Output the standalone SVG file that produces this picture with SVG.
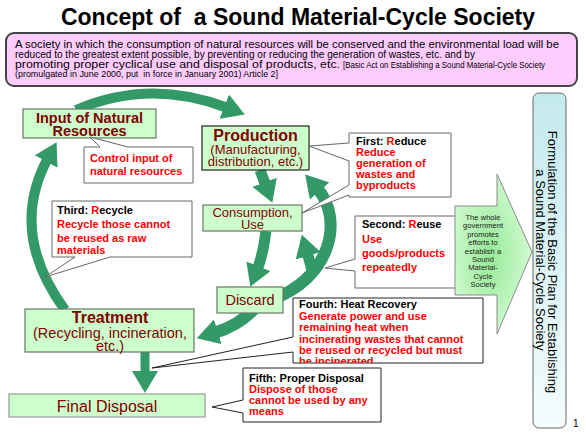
<svg xmlns="http://www.w3.org/2000/svg" width="586" height="438" viewBox="0 0 586 438">
<defs>
<style>
.f{font-family:"Liberation Sans",Arial,sans-serif}
.node rect{fill:#CCFFCC;stroke:#667766;stroke-width:1.2}
.nt{font-family:"Liberation Sans",Arial,sans-serif;fill:#800000;text-anchor:middle}
.b{font-weight:bold}
.co path{fill:#fff;stroke:#666;stroke-width:1}
.ct{font-family:"Liberation Sans",Arial,sans-serif;font-size:11px;font-weight:bold;fill:#FF0000}
.k{fill:#000}
.flow{fill:none;stroke:#339966;marker-end:url(#ah)}
</style>
<marker id="ah" markerUnits="userSpaceOnUse" markerWidth="22" markerHeight="26" viewBox="0 0 22 26" refX="4" refY="13" orient="auto">
<path d="M0,0 L22,13 L0,26 Z" fill="#339966"/>
</marker>
<radialGradient id="ga" cx="0.45" cy="0.5" r="0.6">
<stop offset="0" stop-color="#96EA96"/>
<stop offset="1" stop-color="#D8FCD8"/>
</radialGradient>
<linearGradient id="gb" x1="0" y1="0" x2="0" y2="1">
<stop offset="0" stop-color="#C4EAEE"/>
<stop offset="1" stop-color="#F4FCFC"/>
</linearGradient>
<clipPath id="c4"><rect x="293" y="298" width="190" height="65"/></clipPath>
</defs>
<rect width="586" height="438" fill="#fff"/>

<text class="f b" x="298" y="25" font-size="23" text-anchor="middle" style="white-space:pre" xml:space="preserve">Concept of  a Sound Material-Cycle Society</text>

<g id="definition">
<rect x="6" y="33" width="571" height="53" rx="8" fill="#FFCCFF" stroke="#444" stroke-width="2"/>
<text class="f" font-size="10.5" x="15" y="47.5" textLength="544" lengthAdjust="spacingAndGlyphs">A society in which the consumption of natural resources will be conserved and the environmental load will be</text>
<text class="f" font-size="10.5" x="15" y="57.8" textLength="460" lengthAdjust="spacingAndGlyphs">reduced to the greatest extent possible, by preventing or reducing the generation of wastes, etc. and by</text>
<text class="f" font-size="10.5" x="15" y="68.1" textLength="325" lengthAdjust="spacingAndGlyphs">promoting proper cyclical use and disposal of products, etc.</text>
<text class="f" font-size="8.3" x="343" y="68.1" textLength="202" lengthAdjust="spacingAndGlyphs">[Basic Act on Establishing a Sound Material-Cycle Society</text>
<text class="f" font-size="8.3" x="15" y="77" textLength="263" lengthAdjust="spacingAndGlyphs" style="white-space:pre" xml:space="preserve">(promulgated in June 2000, put  in force in January 2001) Article 2]</text>
</g>

<g id="connectors">
<path class="flow" stroke-width="10" d="M76,110 Q150,78 228,108"/>
<path class="flow" stroke-width="10" d="M65,310 Q8,232 48,158"/>
<path class="flow" stroke-width="11" d="M260,170 L266,186"/>
<path class="flow" stroke-width="11" d="M266,231 Q263,255 257,270"/>
<path class="flow" stroke-width="12" d="M270,300 C330,280 345,220 317,188"/>
<path class="flow" stroke-width="11" d="M313,275 Q310,262 307,252"/>
<path class="flow" stroke-width="12" d="M255,308 Q240,325 214,333"/>
<path class="flow" stroke-width="9" d="M145,351 L145,375"/>
</g>

<g id="input" class="node">
<rect x="23" y="109" width="133" height="29"/>
<text class="nt b" font-size="14.5" x="89.5" y="123">Input of Natural</text>
<text class="nt b" font-size="14.5" x="89.5" y="136">Resources</text>
</g>
<g id="production" class="node">
<rect x="202" y="126" width="107" height="44" style="stroke:#222"/>
<text class="nt b" font-size="16" x="255.5" y="141">Production</text>
<text class="nt" font-size="13" x="255.5" y="154">(Manufacturing,</text>
<text class="nt" font-size="13" x="255.5" y="166">distribution, etc.)</text>
</g>
<g id="consumption" class="node">
<rect x="203" y="205" width="99" height="26"/>
<text class="nt" font-size="13" x="252.5" y="217">Consumption,</text>
<text class="nt" font-size="13" x="252.5" y="228.5">Use</text>
</g>
<g id="discard" class="node">
<rect x="217" y="287" width="66" height="26"/>
<text class="nt" font-size="14.5" x="250" y="305">Discard</text>
</g>
<g id="treatment" class="node">
<rect x="25" y="309" width="169" height="43"/>
<text class="nt b" font-size="16" x="110" y="323">Treatment</text>
<text class="nt" font-size="14.5" x="110" y="338">(Recycling, incineration,</text>
<text class="nt" font-size="14.5" x="110" y="350.5">etc.)</text>
</g>
<g id="final" class="node">
<rect x="9" y="394" width="196" height="23" style="stroke:#999"/>
<text class="nt" font-size="16" x="107" y="412">Final Disposal</text>
</g>

<g id="callout-control" class="co">
<path d="M84,147 L100,147 L90,137 L128,147 L193,147 L193,183 L84,183 Z"/>
<text class="ct" x="90" y="161.5">Control input of</text>
<text class="ct" x="90" y="175">natural resources</text>
</g>
<g id="callout-recycle" class="co">
<path d="M52,201 L192,201 L192,257 L110,257 L45,277 L75,257 L52,257 Z"/>
<text class="ct" x="57" y="214"><tspan class="k">Third: </tspan>R<tspan class="k">ecycle</tspan></text>
<text class="ct" x="57" y="227.5">Recycle those cannot</text>
<text class="ct" x="57" y="241.5">be reused as raw</text>
<text class="ct" x="57" y="254">materials</text>
</g>
<g id="callout-reduce" class="co">
<path d="M349,133 L451,133 L451,197 L349,197 L349,195 L302,213 L349,185 L349,161 L309,146 L349,143 Z"/>
<text class="ct" x="356" y="145"><tspan class="k">First: </tspan>R<tspan class="k">educe</tspan></text>
<text class="ct" x="356" y="156">Reduce</text>
<text class="ct" x="356" y="167">generation of</text>
<text class="ct" x="356" y="178">wastes and</text>
<text class="ct" x="356" y="189">byproducts</text>
</g>
<g id="callout-reuse" class="co">
<path d="M355,216 L458,216 L458,288 L355,288 L355,271 L325,268 L355,259 Z"/>
<text class="ct" x="362" y="228"><tspan class="k">Second: </tspan>R<tspan class="k">euse</tspan></text>
<text class="ct" x="362" y="243">Use</text>
<text class="ct" x="362" y="257">goods/products</text>
<text class="ct" x="362" y="270.5">repeatedly</text>
</g>
<g id="callout-heat" class="co">
<path d="M293,298 L483,298 L483,363 L293,363 L293,352 L152,368 L293,337 Z" style="stroke:#222"/>
<g clip-path="url(#c4)">
<text class="ct" x="299" y="308"><tspan class="k">Fourth: Heat Recovery</tspan></text>
<text class="ct" x="299" y="319.5">Generate power and use</text>
<text class="ct" x="299" y="331">remaining heat when</text>
<text class="ct" x="299" y="342.5">incinerating wastes that cannot</text>
<text class="ct" x="299" y="354">be reused or recycled but must</text>
<text class="ct" x="299" y="365">be incinerated.</text>
</g>
</g>
<g id="callout-disposal" class="co">
<path d="M243,368 L381,368 L381,422 L243,422 L243,413 L212,407 L243,400 Z" style="stroke:#222"/>
<text class="ct" x="249" y="382"><tspan class="k">Fifth: Proper Disposal</tspan></text>
<text class="ct" x="249" y="393">Dispose of those</text>
<text class="ct" x="249" y="403.5">cannot be used by any</text>
<text class="ct" x="249" y="414.5">means</text>
</g>

<g id="government">
<polygon points="455,206 497,206 497,174 532,252 497,334 497,295 455,295" fill="url(#ga)" stroke="#8A8A8A" stroke-width="1"/>
<g class="f" font-size="7.6" fill="#222" text-anchor="middle">
<text x="483" y="220">The whole</text>
<text x="483" y="228.4">government</text>
<text x="483" y="236.8">promotes</text>
<text x="483" y="245.2">efforts to</text>
<text x="483" y="253.6">establish a</text>
<text x="483" y="262">Sound</text>
<text x="483" y="270.4">Material-</text>
<text x="483" y="278.8">Cycle</text>
<text x="483" y="287.2">Society</text>
</g>
</g>

<g id="basic-plan">
<rect x="533" y="93" width="33" height="335" rx="6" fill="url(#gb)" stroke="#666" stroke-width="1"/>
<g class="f" font-size="13" fill="#000" text-anchor="middle" transform="translate(547.5,262) rotate(90)">
<text x="0" y="0">Formulation of the Basic Plan for Establishing</text>
<text x="-2" y="12">a Sound Material-Cycle Society</text>
</g>
</g>

<text class="f" font-size="10" x="573" y="427">1</text>
</svg>
